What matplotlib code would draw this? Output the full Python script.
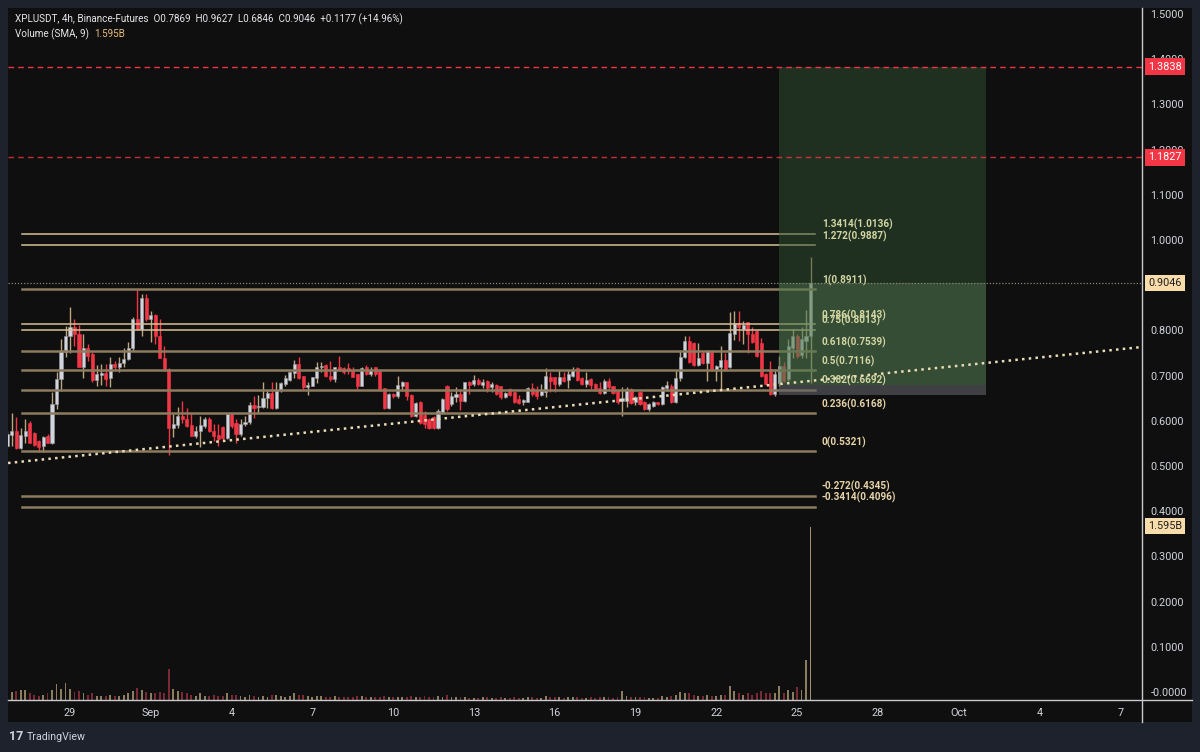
import matplotlib
matplotlib.use('Agg')
import matplotlib.pyplot as plt
from matplotlib.patches import Rectangle
from matplotlib.lines import Line2D
import matplotlib.transforms as mtrans
import numpy as np

plt.rcParams['font.family'] = ['Roboto', 'DejaVu Sans']

# ---------------- data ----------------
opens = [0.545, 0.568, 0.578, 0.539, 0.567, 0.595, 0.573, 0.555, 0.545, 0.567,
         0.552, 0.637, 0.692, 0.753, 0.788, 0.807, 0.792, 0.720, 0.762, 0.748,
         0.691, 0.702, 0.705, 0.694, 0.725, 0.720, 0.727, 0.736, 0.762, 0.825,
         0.803, 0.871, 0.825, 0.834, 0.788, 0.740, 0.714, 0.585, 0.590, 0.611,
         0.605, 0.590, 0.567, 0.578, 0.589, 0.605, 0.578, 0.568, 0.587, 0.561,
         0.616, 0.596, 0.571, 0.592, 0.597, 0.634, 0.631, 0.631, 0.650, 0.661,
         0.629, 0.668, 0.681, 0.691, 0.705, 0.725, 0.700, 0.675, 0.677, 0.694,
         0.718, 0.723, 0.699, 0.692, 0.718, 0.716, 0.716, 0.711, 0.703, 0.677,
         0.720, 0.703, 0.720, 0.711, 0.672, 0.629, 0.660, 0.654, 0.677, 0.686,
         0.657, 0.611, 0.642, 0.612, 0.604, 0.609, 0.583, 0.619, 0.677, 0.637,
         0.652, 0.659, 0.644, 0.686, 0.681, 0.691, 0.679, 0.689, 0.674, 0.679,
         0.677, 0.652, 0.670, 0.663, 0.648, 0.641, 0.642, 0.672, 0.666, 0.657,
         0.664, 0.698, 0.696, 0.681, 0.698, 0.691, 0.700, 0.716, 0.694, 0.681,
         0.692, 0.681, 0.672, 0.661, 0.689, 0.676, 0.666, 0.644, 0.644, 0.670,
         0.641, 0.663, 0.642, 0.626, 0.633, 0.641, 0.637, 0.672, 0.676, 0.642,
         0.694, 0.742, 0.777, 0.773, 0.723, 0.751, 0.727, 0.755, 0.713, 0.718,
         0.735, 0.718, 0.792, 0.816, 0.804, 0.818, 0.792, 0.799, 0.773, 0.703,
         0.714, 0.659, 0.683, 0.722, 0.692, 0.762, 0.788, 0.746, 0.777, 0.7869]
highs = [0.578, 0.618, 0.608, 0.585, 0.604, 0.600, 0.575, 0.557, 0.567, 0.570,
         0.663, 0.709, 0.781, 0.810, 0.852, 0.826, 0.811, 0.792, 0.771, 0.753,
         0.723, 0.725, 0.725, 0.742, 0.733, 0.742, 0.762, 0.775, 0.830, 0.8911,
         0.880, 0.880, 0.842, 0.836, 0.825, 0.766, 0.716, 0.616, 0.630, 0.644,
         0.628, 0.618, 0.589, 0.611, 0.608, 0.608, 0.594, 0.593, 0.589, 0.618,
         0.618, 0.603, 0.603, 0.611, 0.642, 0.655, 0.657, 0.685, 0.668, 0.685,
         0.685, 0.685, 0.702, 0.709, 0.734, 0.742, 0.700, 0.685, 0.698, 0.729,
         0.729, 0.725, 0.733, 0.720, 0.744, 0.720, 0.727, 0.718, 0.703, 0.718,
         0.723, 0.720, 0.720, 0.711, 0.673, 0.662, 0.662, 0.700, 0.688, 0.686,
         0.659, 0.642, 0.644, 0.622, 0.607, 0.611, 0.626, 0.650, 0.679, 0.663,
         0.674, 0.670, 0.686, 0.689, 0.701, 0.694, 0.692, 0.691, 0.686, 0.681,
         0.677, 0.663, 0.672, 0.664, 0.657, 0.649, 0.674, 0.683, 0.676, 0.681,
         0.716, 0.709, 0.696, 0.713, 0.707, 0.713, 0.718, 0.718, 0.696, 0.707,
         0.694, 0.683, 0.685, 0.692, 0.694, 0.678, 0.668, 0.674, 0.674, 0.672,
         0.655, 0.667, 0.644, 0.640, 0.644, 0.642, 0.678, 0.689, 0.681, 0.713,
         0.757, 0.788, 0.788, 0.775, 0.773, 0.755, 0.757, 0.757, 0.723, 0.766,
         0.751, 0.840, 0.843, 0.843, 0.821, 0.819, 0.808, 0.801, 0.784, 0.705,
         0.733, 0.714, 0.744, 0.729, 0.781, 0.803, 0.792, 0.807, 0.845, 0.9627]
lows = [0.541, 0.545, 0.537, 0.537, 0.552, 0.550, 0.545, 0.531, 0.531, 0.550,
        0.548, 0.627, 0.667, 0.742, 0.750, 0.766, 0.718, 0.694, 0.733, 0.685,
        0.677, 0.679, 0.677, 0.674, 0.711, 0.708, 0.720, 0.734, 0.755, 0.803,
        0.788, 0.821, 0.775, 0.770, 0.738, 0.710, 0.525, 0.565, 0.585, 0.595,
        0.587, 0.566, 0.561, 0.541, 0.583, 0.576, 0.556, 0.545, 0.556, 0.559,
        0.585, 0.552, 0.567, 0.589, 0.594, 0.606, 0.618, 0.629, 0.629, 0.626,
        0.626, 0.663, 0.678, 0.689, 0.694, 0.692, 0.671, 0.657, 0.676, 0.683,
        0.708, 0.698, 0.688, 0.686, 0.711, 0.703, 0.703, 0.696, 0.670, 0.676,
        0.701, 0.699, 0.699, 0.666, 0.627, 0.627, 0.651, 0.650, 0.665, 0.647,
        0.609, 0.609, 0.593, 0.583, 0.582, 0.581, 0.581, 0.615, 0.622, 0.633,
        0.641, 0.624, 0.642, 0.659, 0.677, 0.679, 0.672, 0.663, 0.663, 0.657,
        0.649, 0.650, 0.655, 0.640, 0.637, 0.635, 0.641, 0.655, 0.649, 0.654,
        0.652, 0.664, 0.664, 0.677, 0.685, 0.672, 0.698, 0.689, 0.679, 0.674,
        0.670, 0.666, 0.659, 0.659, 0.670, 0.659, 0.637, 0.611, 0.630, 0.637,
        0.636, 0.635, 0.624, 0.622, 0.630, 0.634, 0.635, 0.665, 0.640, 0.640,
        0.689, 0.740, 0.727, 0.722, 0.722, 0.725, 0.689, 0.711, 0.689, 0.670,
        0.711, 0.716, 0.779, 0.777, 0.769, 0.751, 0.773, 0.742, 0.698, 0.679,
        0.657, 0.655, 0.678, 0.685, 0.689, 0.740, 0.740, 0.740, 0.740, 0.6846]
closes = [0.571, 0.578, 0.539, 0.568, 0.577, 0.552, 0.547, 0.541, 0.565, 0.552,
          0.637, 0.692, 0.755, 0.788, 0.807, 0.792, 0.720, 0.762, 0.744, 0.691,
          0.703, 0.705, 0.692, 0.725, 0.720, 0.728, 0.736, 0.762, 0.825, 0.804,
          0.871, 0.825, 0.834, 0.788, 0.740, 0.714, 0.585, 0.593, 0.611, 0.604,
          0.589, 0.567, 0.578, 0.590, 0.604, 0.578, 0.567, 0.559, 0.561, 0.616,
          0.588, 0.571, 0.592, 0.598, 0.634, 0.629, 0.632, 0.650, 0.661, 0.629,
          0.668, 0.683, 0.694, 0.707, 0.725, 0.694, 0.674, 0.679, 0.696, 0.718,
          0.722, 0.699, 0.692, 0.718, 0.713, 0.707, 0.711, 0.698, 0.677, 0.716,
          0.703, 0.713, 0.703, 0.670, 0.629, 0.659, 0.654, 0.679, 0.685, 0.654,
          0.611, 0.639, 0.596, 0.593, 0.583, 0.583, 0.622, 0.648, 0.626, 0.655,
          0.659, 0.644, 0.685, 0.679, 0.691, 0.681, 0.685, 0.672, 0.681, 0.659,
          0.652, 0.661, 0.657, 0.642, 0.639, 0.646, 0.672, 0.659, 0.655, 0.666,
          0.700, 0.689, 0.681, 0.698, 0.689, 0.703, 0.713, 0.691, 0.681, 0.691,
          0.679, 0.670, 0.661, 0.689, 0.674, 0.661, 0.641, 0.651, 0.670, 0.639,
          0.652, 0.637, 0.626, 0.637, 0.642, 0.637, 0.674, 0.679, 0.642, 0.694,
          0.742, 0.777, 0.729, 0.723, 0.738, 0.727, 0.755, 0.713, 0.722, 0.735,
          0.714, 0.795, 0.816, 0.807, 0.812, 0.792, 0.775, 0.744, 0.700, 0.681,
          0.659, 0.703, 0.722, 0.689, 0.766, 0.788, 0.744, 0.781, 0.787, 0.9046]
volumes_b = [0.19, 0.07, 0.08, 0.09, 0.09, 0.06, 0.05, 0.04, 0.05, 0.06,
             0.09, 0.15, 0.10, 0.16, 0.10, 0.07, 0.08, 0.06, 0.05, 0.06,
             0.04, 0.04, 0.04, 0.05, 0.04, 0.04, 0.05, 0.06, 0.08, 0.11,
             0.09, 0.07, 0.06, 0.06, 0.07, 0.06, 0.29, 0.10, 0.08, 0.07,
             0.06, 0.05, 0.04, 0.06, 0.04, 0.04, 0.05, 0.04, 0.04, 0.06,
             0.05, 0.05, 0.04, 0.03, 0.05, 0.04, 0.03, 0.04, 0.03, 0.05,
             0.05, 0.04, 0.03, 0.04, 0.06, 0.05, 0.05, 0.04, 0.03, 0.04,
             0.04, 0.03, 0.03, 0.04, 0.03, 0.03, 0.03, 0.03, 0.04, 0.04,
             0.03, 0.03, 0.03, 0.03, 0.04, 0.03, 0.03, 0.03, 0.03, 0.03,
             0.04, 0.03, 0.03, 0.04, 0.03, 0.03, 0.04, 0.03, 0.05, 0.03,
             0.03, 0.03, 0.03, 0.02, 0.02, 0.02, 0.03, 0.03, 0.02, 0.02,
             0.03, 0.02, 0.02, 0.03, 0.02, 0.02, 0.03, 0.03, 0.02, 0.02,
             0.04, 0.03, 0.03, 0.03, 0.02, 0.03, 0.03, 0.03, 0.02, 0.02,
             0.03, 0.02, 0.03, 0.03, 0.03, 0.02, 0.03, 0.08, 0.04, 0.03,
             0.03, 0.03, 0.03, 0.02, 0.02, 0.02, 0.04, 0.03, 0.04, 0.05,
             0.07, 0.06, 0.06, 0.05, 0.04, 0.04, 0.05, 0.04, 0.04, 0.05,
             0.05, 0.13, 0.08, 0.06, 0.05, 0.06, 0.05, 0.06, 0.08, 0.06,
             0.065, 0.065, 0.13, 0.065, 0.09, 0.075, 0.12, 0.09, 0.37, 1.595]

fib_ratios = ['1.3414', '1.272', '1', '0.786', '0.75', '0.618', '0.5', '0.382',
              '0.236', '0', '-0.272', '-0.3414']
fib_prices = [1.0136, 0.9887, 0.8911, 0.8143, 0.8013, 0.7539, 0.7116, 0.6692,
              0.6168, 0.5321, 0.4345, 0.4096]

date_tick_days = [0, 3, 6, 9, 12, 15, 18, 21, 24, 27, 30, 33, 36, 39]
date_tick_labels = ['29', 'Sep', '4', '7', '10', '13', '16', '19', '22', '25',
                    '28', 'Oct', '4', '7']
price_ticks = [0.0, 0.1, 0.2, 0.3, 0.4, 0.5, 0.6, 0.7, 0.8, 0.9, 1.0, 1.1,
               1.2, 1.3, 1.4, 1.5]

target_price = 1.3838
alert_price = 1.1827
entry_price = 0.679
stop_price = 0.657
last_close = 0.9046
trend_start = (-2.30, 0.5066)
trend_end = (39.81, 0.7633)

# ---------------- layout ----------------
W, H = 1200, 752
fig = plt.figure(figsize=(12, 7.52), dpi=100)
fig.patch.set_facecolor('#1e222d')

def fx(px):
    return px / W

def fy(py):
    return 1 - py / H

fig.add_artist(Rectangle((fx(8), fy(722)), fx(1192) - fx(8), fy(8) - fy(722),
                         transform=fig.transFigure, facecolor='#0f0f0f',
                         edgecolor='none', zorder=0))

rect = [fx(8), fy(700), fx(1142) - fx(8), fy(8) - fy(700)]
axv = fig.add_axes(rect, zorder=1)
ax = fig.add_axes(rect, zorder=2)
XMIN, XMAX = -2.302, 39.81
YMIN, YMAX = -0.0177, 1.5133
for a in (ax, axv):
    a.set_facecolor('none')
    a.set_xlim(XMIN, XMAX)
    for s in a.spines.values():
        s.set_visible(False)
ax.set_ylim(YMIN, YMAX)
axv.set_ylim(0, 6.38)
axv.set_xticks([])
axv.set_yticks([])

n = len(closes)
t = -2.3333 + np.arange(n) / 6.0
o = np.array(opens); h = np.array(highs); l = np.array(lows); c = np.array(closes)
up = c >= o

UP_BODY = '#d1d4dc'
UP_WICK = '#bba67f'
DN = '#f23645'

# volume
vcol = ['#8d7d5f' if u else '#7a2a35' for u in up]
vcol[-1] = '#a8916a'
axv.bar(t, volumes_b, width=0.07, color=vcol, linewidth=0)

# candles
ax.vlines(t, l, h, colors=[UP_WICK if u else DN for u in up], linewidth=1.0, zorder=2)
body_bot = np.minimum(o, c)
body_h = np.maximum(np.abs(c - o), 0.0015)
ax.bar(t, body_h, bottom=body_bot, width=0.115,
       color=[UP_BODY if u else DN for u in up],
       edgecolor=['#9a9ca3' if u else DN for u in up], linewidth=0.4, zorder=2.2)

# position box extent
bx0, bx1 = 26.33, 34.01

# fib lines
fx0, fx1, flab = -1.782, 27.66, 27.92
bright = {'1.3414', '1.272', '0.786', '0.75'}
for r, p in zip(fib_ratios, fib_prices):
    if r in bright:
        ax.plot([fx0, fx1], [p, p], color='#d6c193', lw=1.1, zorder=2.5)
    else:
        ax.plot([fx0, fx1], [p, p], color='#8d7b5e', lw=1.8, zorder=2.5)
    in_box = stop_price <= p <= target_price
    ax.text(flab, p + 0.02, f'{r}({p:.4f})',
            color='#d3d6a2' if in_box else '#e6d3a6', fontsize=7.2,
            fontweight='semibold', va='center', ha='left', zorder=4)

# long position box
ax.add_patch(Rectangle((bx0, last_close), bx1 - bx0, target_price - last_close,
                       facecolor=(47/255, 81/255, 49/255), alpha=0.5,
                       edgecolor='none', zorder=3))
ax.add_patch(Rectangle((bx0, entry_price), bx1 - bx0, last_close - entry_price,
                       facecolor=(78/255, 120/255, 77/255), alpha=0.6,
                       edgecolor='none', zorder=3))
ax.add_patch(Rectangle((bx0, stop_price), bx1 - bx0, entry_price - stop_price,
                       facecolor='#5f6168', alpha=0.6, edgecolor='none', zorder=3))

# trend line
ax.plot([trend_start[0], trend_end[0]], [trend_start[1], trend_end[1]],
        color='#e9dcb6', lw=1.8, dashes=(1, 1.7), zorder=5)

# horizontal lines
ax.axhline(target_price, color=DN, lw=1, dashes=(4, 3), zorder=5)
ax.axhline(alert_price, color=DN, lw=1, dashes=(4, 3), alpha=0.8, zorder=5)
ax.axhline(last_close, color='#8a8575', lw=0.9, dashes=(1, 1.5), zorder=5)

# axes ticks
ax.yaxis.tick_right()
ax.set_yticks(price_ticks)
ax.set_yticklabels(['-0.0000' if v == 0 else f'{v:.4f}' for v in price_ticks])
ax.tick_params(axis='y', length=0, pad=6, labelsize=7.8, labelcolor='#d1d4dc')
ax.set_xticks(date_tick_days)
ax.set_xticklabels(date_tick_labels)
ax.tick_params(axis='x', length=0, pad=6, labelsize=7.8, labelcolor='#d1d4dc')

# separators
fig.add_artist(Line2D([fx(8), fx(1192)], [fy(700), fy(700)], color='#c8cad0', lw=1,
                      transform=fig.transFigure, zorder=10))
fig.add_artist(Line2D([fx(1142), fx(1142)], [fy(8), fy(722)], color='#c8cad0', lw=1,
                      transform=fig.transFigure, zorder=10))

# axis labels boxes
bt = mtrans.blended_transform_factory(ax.transAxes, ax.transData)
def axis_box(price, txt, fc, tc):
    ax.text(1.0 + 6 / 1134, price, txt, transform=bt, ha='left', va='center',
            fontsize=7.8, color=tc, zorder=20, clip_on=False,
            bbox=dict(boxstyle='square,pad=0.3', fc=fc, ec='none'))

axis_box(target_price, '1.3838', DN, 'white')
axis_box(alert_price, '1.1827', DN, 'white')
axis_box(last_close, '0.9046', '#f8dcaa', '#1e1e1e')
vol_label_price = (692 - 526) / 452
axis_box(vol_label_price, '1.595B', '#f8dcaa', '#1e1e1e')

# header
fig.text(fx(15), fy(19),
         'XPLUSDT, 4h, Binance-Futures  O0.7869  H0.9627  L0.6846  C0.9046  +0.1177 (+14.96%)',
         color='#e6e7ea', fontsize=7.1, va='center', ha='left')
fig.text(fx(15), fy(34), 'Volume (SMA, 9)', color='#e6e7ea', fontsize=7.1,
         va='center', ha='left')
fig.text(fx(94), fy(34), '1.595B', color='#e9bc7a', fontsize=7.1,
         va='center', ha='left')

# footer logo
fig.text(fx(9), fy(737), '17', color='#d1d4dc', fontsize=9, fontweight='bold',
         va='center', ha='left')
fig.text(fx(27), fy(737), 'TradingView', color='#d1d4dc', fontsize=7.7,
         va='center', ha='left')

fig.savefig('out.png', dpi=100, facecolor=fig.get_facecolor())
